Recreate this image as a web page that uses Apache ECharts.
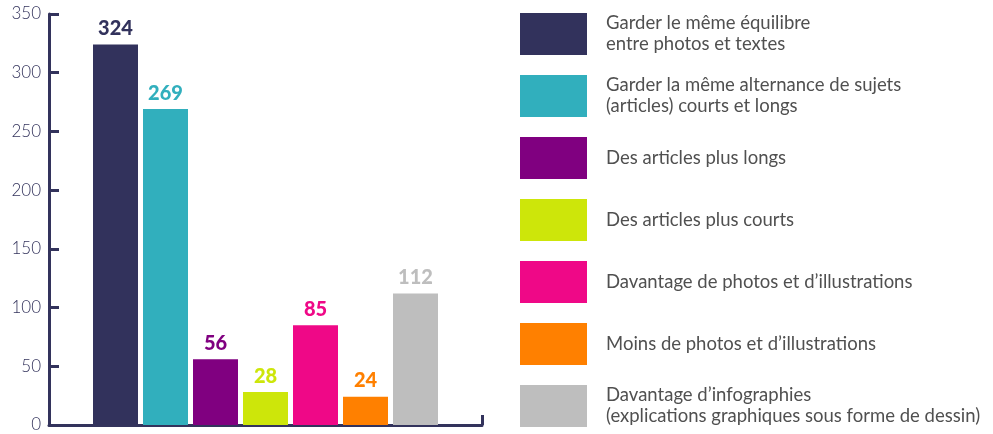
<!DOCTYPE html>
<html>
<head>
<meta charset="utf-8">
<script src="https://cdn.jsdelivr.net/npm/echarts@6/dist/echarts.min.js"></script>
<style>html,body{margin:0;padding:0;background:#fff;}#c{width:993px;height:434px;}</style>
</head>
<body>
<div id="c"></div>
<script>
var categories = [
  "Garder le même équilibre\nentre photos et textes",
  "Garder la même alternance de sujets\n(articles) courts et longs",
  "Des articles plus longs",
  "Des articles plus courts",
  "Davantage de photos et d’illustrations",
  "Moins de photos et d’illustrations",
  "Davantage d’infographies\n(explications graphiques sous forme de dessin)"
];
var values = [324, 269, 56, 28, 85, 24, 112];
var colors = ["#32325c", "#31afbd", "#800080", "#cde60a", "#ef0887", "#ff8000", "#bebebe"];
var yTicks = [0, 50, 100, 150, 200, 250, 300, 350];

var axisColor = "#33335c";
var FONT = "Lato, 'Noto Sans', sans-serif";

var series = categories.map(function (name, i) {
  return {
    name: name,
    type: 'bar',
    barWidth: 45,
    barGap: '-100%',
    data: [[i, values[i]]],
    itemStyle: { color: colors[i] },
    label: {
      show: true,
      position: 'top',
      distance: 6,
      color: colors[i],
      fontFamily: FONT,
      fontWeight: 900,
      fontSize: 20
    }
  };
});

var chart = echarts.init(document.getElementById('c'));
chart.setOption({
  animation: false,
  grid: { left: 49, right: 511, top: 14, bottom: 9, containLabel: false },
  xAxis: {
    type: 'value',
    min: -1.33,
    max: 7.33,
    splitLine: { show: false },
    axisLabel: { show: false },
    axisLine: { show: true, onZero: false, lineStyle: { color: axisColor, width: 3 } },
    axisTick: { show: true, inside: true, length: 10, customValues: [7.33], lineStyle: { color: axisColor, width: 3 } }
  },
  yAxis: {
    type: 'value',
    min: yTicks[0],
    max: yTicks[yTicks.length - 1],
    interval: 50,
    splitLine: { show: false },
    axisLine: { show: true, onZero: false, lineStyle: { color: axisColor, width: 3 } },
    axisTick: { show: true, inside: true, length: 10, lineStyle: { color: axisColor, width: 3 } },
    axisLabel: { color: axisColor, fontFamily: FONT, fontSize: 17, fontWeight: 300, margin: 8 }
  },
  legend: {
    orient: 'vertical',
    left: 520,
    top: 13,
    itemWidth: 67,
    itemHeight: 42,
    itemGap: 20,
    icon: 'rect',
    padding: 0,
    data: categories,
    selectedMode: false,
    textStyle: {
      color: '#505050',
      fontFamily: FONT,
      fontSize: 18.5,
      lineHeight: 21,
      padding: [0, 0, 0, 14]
    }
  },
  series: series
});
</script>
</body>
</html>
